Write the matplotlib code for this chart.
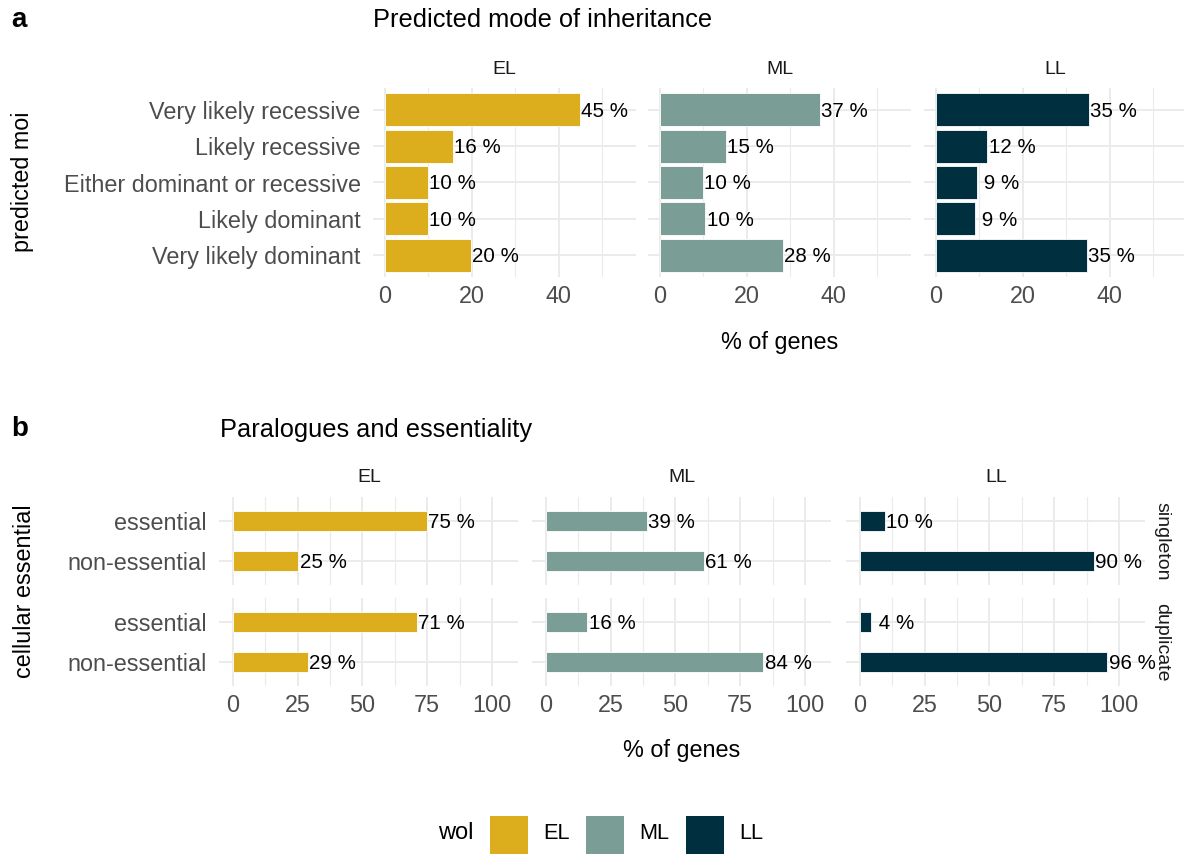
import matplotlib.pyplot as plt
from matplotlib.patches import Rectangle

plt.rcParams["font.family"] = ["Liberation Sans", "DejaVu Sans"]

# --- data -------------------------------------------------------------
wol_levels = ["EL", "ML", "LL"]
wol_colors = ["#DCAE1D", "#7A9D96", "#00303F"]

moi_categories = [
    "Very likely recessive",
    "Likely recessive",
    "Either dominant or recessive",
    "Likely dominant",
    "Very likely dominant",
]
moi_el = [44.8, 15.6, 9.9, 9.9, 19.8]
moi_ml = [36.8, 15.2, 9.9, 10.4, 28.3]
moi_ll = [35.2, 11.8, 9.4, 9.0, 34.7]

ess_categories = ["essential", "non-essential"]
paralog_groups = ["singleton", "duplicate"]
ess_el = {"singleton": [74.8, 25.2], "duplicate": [71.0, 29.0]}
ess_ml = {"singleton": [39.0, 61.0], "duplicate": [16.0, 84.0]}
ess_ll = {"singleton": [9.7, 90.3], "duplicate": [4.4, 95.6]}

moi_ticks = [0, 20, 40]
ess_ticks = [0, 25, 50, 75, 100]

# --- layout helpers (pixel coords, origin top-left) -------------------
W, H = 1184, 855


def box(x0, x1, y0, y1):
    return [x0 / W, 1 - y1 / H, (x1 - x0) / W, (y1 - y0) / H]


def fx(x):
    return x / W


def fy(y):
    return 1 - y / H


GRID = "#EBEBEB"
TICK_COL = "#4D4D4D"
STRIP_COL = "#1A1A1A"


def style(ax, xlim, major, minor, ylim, show_x, show_y, labels=None):
    ax.set_xlim(*xlim)
    ax.set_ylim(*ylim)
    ax.set_xticks(major)
    ax.set_xticks(minor, minor=True)
    ax.grid(True, which="major", color=GRID, linewidth=1.4)
    ax.grid(True, which="minor", axis="x", color=GRID, linewidth=0.8)
    ax.set_axisbelow(True)
    for s in ax.spines.values():
        s.set_visible(False)
    ax.tick_params(which="both", length=0, labelsize=16.8, labelcolor=TICK_COL)
    ax.tick_params(axis="x", pad=6)
    ax.tick_params(axis="y", pad=9)
    if not show_x:
        ax.set_xticklabels([])
    if show_y:
        ax.set_yticklabels(labels)
    else:
        ax.set_yticklabels([])


def bars(ax, values, color, height):
    pos = list(range(len(values)))
    ax.barh(pos, values, height=height, color=color, edgecolor="white", linewidth=0.6)
    for p, v in zip(pos, values):
        ax.annotate(f"{round(v):2d} %", (v, p), xytext=(1, -1), textcoords="offset points",
                    ha="left", va="center", fontsize=14.8, color="black")


fig = plt.figure(figsize=(W / 100, H / 100), dpi=100)

# --- panel a -------------------------------------------------------------
moi_values = [moi_el, moi_ml, moi_ll]
top_left = [373, 648, 924]
top_w = 263
for i, (lvl, col, vals) in enumerate(zip(wol_levels, wol_colors, moi_values)):
    x0 = top_left[i]
    ax = fig.add_axes(box(x0, x0 + top_w, 88, 277))
    bars(ax, vals, col, 0.9)
    ax.set_yticks(range(len(moi_categories)))
    style(ax, (-2.75, 57.75), moi_ticks, [10, 30, 50], (4.6, -0.6), True, i == 0, moi_categories)
    fig.text(fx(x0 + top_w / 2), fy(70), lvl, ha="center", va="center", fontsize=14, color=STRIP_COL)

fig.text(fx(11), fy(20), "a", ha="left", va="center", fontsize=20, fontweight="bold")
fig.text(fx(373), fy(20), "Predicted mode of inheritance", ha="left", va="center", fontsize=18.3)
fig.text(fx(22), fy(182), "predicted moi", rotation=90, ha="center", va="center", fontsize=16.8)
fig.text(fx(780), fy(343), "% of genes", ha="center", va="center", fontsize=16.8)

# --- panel b -------------------------------------------------------------
ess_values = [ess_el, ess_ml, ess_ll]
bot_left = [219.4, 532.4, 846.4]
bot_w = 299
row_y = {"singleton": (497, 585), "duplicate": (598, 686)}
for i, (lvl, col, vals) in enumerate(zip(wol_levels, wol_colors, ess_values)):
    x0 = bot_left[i]
    for grp in paralog_groups:
        y0, y1 = row_y[grp]
        ax = fig.add_axes(box(x0, x0 + bot_w, y0, y1))
        bars(ax, vals[grp], col, 0.5)
        ax.set_yticks(range(len(ess_categories)))
        style(ax, (-5.25, 110.25), ess_ticks, [12.5, 37.5, 62.5, 87.5], (1.6, -0.6),
              grp == "duplicate", i == 0, ess_categories)
    fig.text(fx(x0 + bot_w / 2), fy(477), lvl, ha="center", va="center", fontsize=14, color=STRIP_COL)

for grp in paralog_groups:
    y0, y1 = row_y[grp]
    fig.text(fx(1162), fy((y0 + y1) / 2), grp, rotation=270, ha="center", va="center",
             fontsize=14, color=STRIP_COL)

fig.text(fx(11), fy(429), "b", ha="left", va="center", fontsize=20, fontweight="bold")
fig.text(fx(220), fy(430), "Paralogues and essentiality", ha="left", va="center", fontsize=18.3)
fig.text(fx(25), fy(591), "cellular essential", rotation=90, ha="center", va="center", fontsize=16.8)
fig.text(fx(682), fy(750), "% of genes", ha="center", va="center", fontsize=16.8)

# --- legend -------------------------------------------------------------
fig.text(fx(456), fy(833), "wol", ha="center", va="center", fontsize=17)
key_x = [490, 586, 686]
for kx, lvl, col in zip(key_x, wol_levels, wol_colors):
    fig.patches.append(Rectangle((fx(kx), fy(854)), 38 / W, 38 / H, transform=fig.transFigure,
                                 facecolor=col, edgecolor="none"))
    fig.text(fx(kx + 53), fy(833), lvl, ha="left", va="center", fontsize=15.7)

fig.savefig("out.png", dpi=100)
